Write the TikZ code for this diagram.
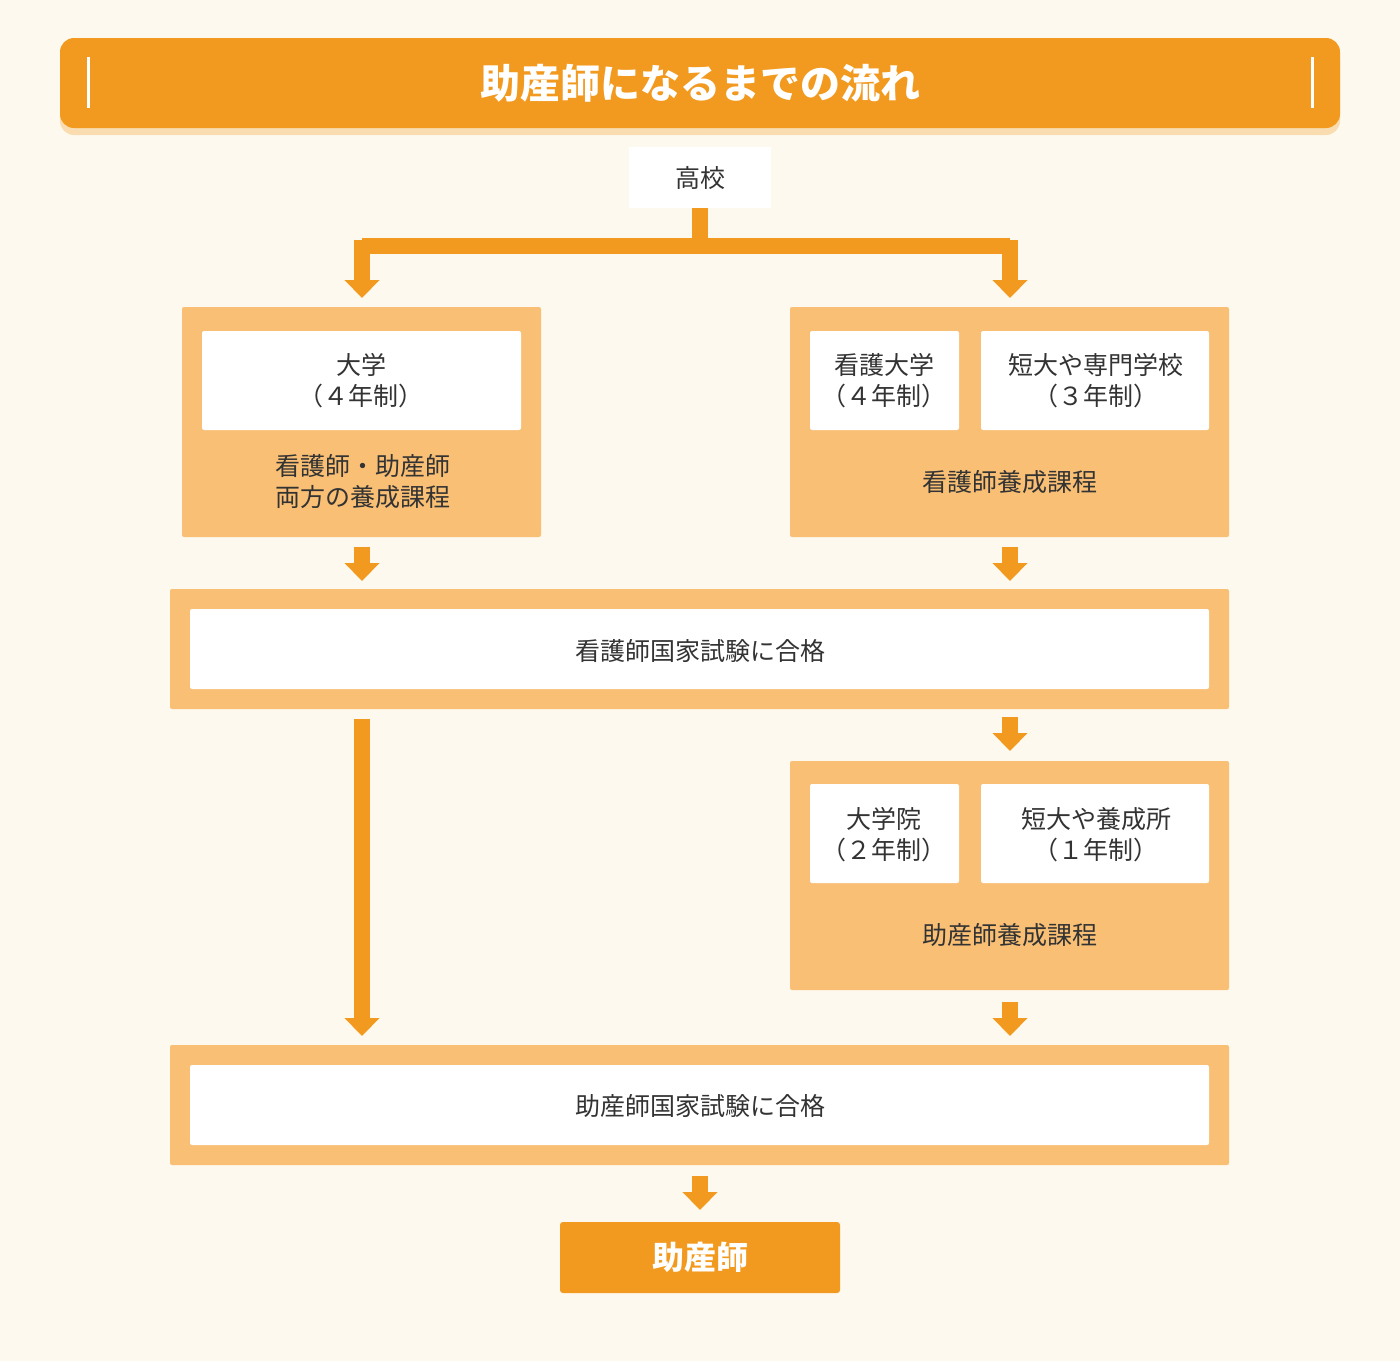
\documentclass[tikz,border=0pt]{standalone}
\usepackage{fontspec}
\setmainfont{Noto Sans CJK JP}
\usetikzlibrary{arrows.meta}
\definecolor{bg}{HTML}{FEF9EE}
\definecolor{org}{HTML}{F29A1F}
\definecolor{lorg}{HTML}{F8BF75}
\definecolor{shd}{HTML}{F9DDB0}
\definecolor{txt}{HTML}{333333}
\begin{document}
\begin{tikzpicture}[x=1pt,y=-1pt,
 panel/.style={fill=lorg,draw=none,rounded corners=2pt},
 wbox/.style={fill=white,draw=none,rounded corners=2pt},
 t/.style={text=txt,font=\fontsize{25}{31}\selectfont,align=center},
 arr/.style={draw=org,line width=16pt,-{Triangle[width=34pt,length=18pt]}}]
\useasboundingbox (0,0) rectangle (1400,1361);
\fill[bg] (0,0) rectangle (1400,1361);
% title
\fill[shd,rounded corners=14pt] (60,46) rectangle (1340,135);
\fill[org,rounded corners=14pt] (60,38) rectangle (1340,128);
\draw[white,line width=3pt] (88,57) -- (88,108) (1312,57) -- (1312,108);
\node[text=white,font=\fontsize{40}{46}\selectfont\bfseries] (title) at (700,83) {助産師になるまでの流れ};
% 高校
\fill[white] (629,147) rectangle (771,208);
\node[t] (hs) at (700,178) {高校};
\coordinate (hsb) at (700,208);
\draw[org,line width=16pt] (hsb) -- (700,246);
\draw[org,line width=16pt] (362,246) -- (1010,246);
\coordinate (la) at (362,240); \coordinate (ra) at (1010,240);
\coordinate (lat) at (362,298); \coordinate (rat) at (1010,298);
\draw[arr] (la) -- (lat);
\draw[arr] (ra) -- (rat);
% left box
\fill[panel] (182,307) rectangle (541,537);
\fill[wbox] (202,331) rectangle (521,430);
\node[t] (univ) at (361,381) {大学\\（４年制）};
\node[t] (both) at (363,482) {看護師・助産師\\両方の養成課程};
% right box
\fill[panel] (790,307) rectangle (1229,537);
\fill[wbox] (810,331) rectangle (959,430);
\fill[wbox] (981,331) rectangle (1209,430);
\node[t] (nu) at (884,381) {看護大学\\（４年制）};
\node[t] (tc) at (1096,381) {短大や専門学校\\（３年制）};
\node[t] (nc) at (1010,482) {看護師養成課程};
% arrows
\coordinate (a1s) at (362,547); \coordinate (a1e) at (362,581);
\coordinate (a2s) at (1010,547); \coordinate (a2e) at (1010,581);
\draw[arr] (a1s) -- (a1e); \draw[arr] (a2s) -- (a2e);
% exam 1
\fill[panel] (170,589) rectangle (1229,709);
\fill[wbox] (190,609) rectangle (1209,689);
\node[t] (ex1) at (700,651) {看護師国家試験に合格};
\coordinate (a3s) at (362,719); \coordinate (a3e) at (362,1036);
\draw[arr] (a3s) -- (a3e);
\coordinate (a4s) at (1010,717); \coordinate (a4e) at (1010,751);
\draw[arr] (a4s) -- (a4e);
% midwife course
\fill[panel] (790,761) rectangle (1229,990);
\fill[wbox] (810,784) rectangle (959,883);
\fill[wbox] (981,784) rectangle (1209,883);
\node[t] (gs) at (884,835) {大学院\\（２年制）};
\node[t] (ts) at (1096,835) {短大や養成所\\（１年制）};
\node[t] (mc) at (1010,935) {助産師養成課程};
\coordinate (a5s) at (1010,1002); \coordinate (a5e) at (1010,1036);
\draw[arr] (a5s) -- (a5e);
% exam 2
\fill[panel] (170,1045) rectangle (1229,1165);
\fill[wbox] (190,1065) rectangle (1209,1145);
\node[t] (ex2) at (700,1106) {助産師国家試験に合格};
\coordinate (a6s) at (700,1176); \coordinate (a6e) at (700,1210);
\draw[arr] (a6s) -- (a6e);
% final
\fill[org,rounded corners=3pt] (560,1222) rectangle (840,1293);
\node[text=white,font=\fontsize{32}{38}\selectfont\bfseries] (mw) at (700,1257) {助産師};
\end{tikzpicture}
\end{document}
